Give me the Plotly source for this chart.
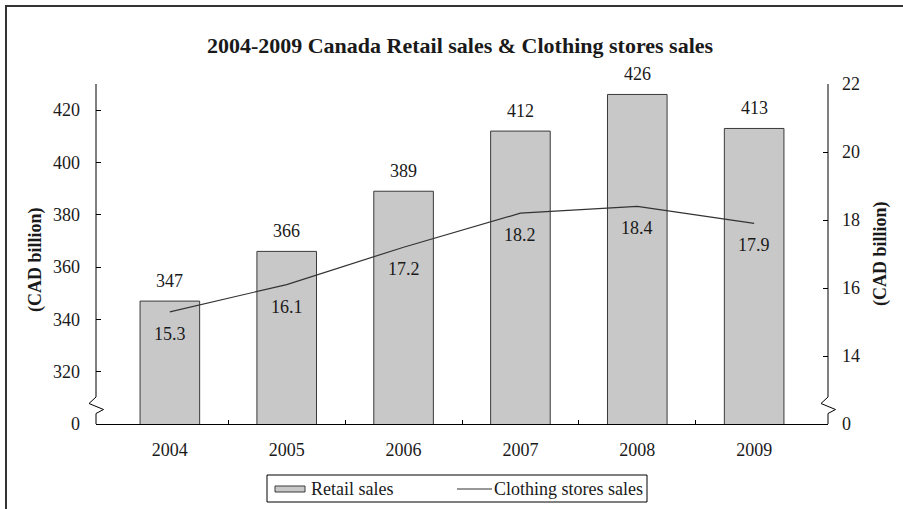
import plotly.graph_objects as go

# Canada retail sales (CAD billion) and clothing stores sales (CAD billion)
years = ["2004", "2005", "2006", "2007", "2008", "2009"]
retail_sales = [347, 366, 389, 412, 426, 413]
clothing_sales = [15.3, 16.1, 17.2, 18.2, 18.4, 17.9]

left_ticks = [300, 320, 340, 360, 380, 400, 420]
left_ticktext = ["0", "320", "340", "360", "380", "400", "420"]
right_ticks = [12, 14, 16, 18, 20, 22]
right_ticktext = ["0", "14", "16", "18", "20", "22"]

FONT = "Liberation Serif"
W, H = 903, 509
ML, MR, MT, MB = 96, 75, 84, 85
PW, PH = W - ML - MR, H - MT - MB


def fx(p):
    """pixel x -> paper x"""
    return (p - ML) / PW


def fy(p):
    """pixel y -> paper y"""
    return (H - MB - p) / PH


xpos = list(range(len(years)))
txt = dict(family=FONT, size=18, color="#1a1a1a")

fig = go.Figure()
fig.add_trace(go.Bar(
    x=xpos, y=retail_sales, name="Retail sales", width=0.51,
    marker=dict(color="#c8c8c8", line=dict(color="#3a3a3a", width=1)),
    showlegend=False, yaxis="y",
))
fig.add_trace(go.Scatter(
    x=xpos, y=clothing_sales, name="Clothing stores sales", mode="lines",
    line=dict(color="#333333", width=1.2), showlegend=False, yaxis="y2",
))

annotations = []
for i, v in enumerate(retail_sales):
    annotations.append(dict(x=i, y=v, xref="x", yref="y", text=str(v), showarrow=False,
                            yanchor="middle", yshift=20, font=txt))
for i, v in enumerate(clothing_sales):
    annotations.append(dict(x=i, y=v, xref="x", yref="y2", text=f"{v:.1f}", showarrow=False,
                            yanchor="middle", yshift=-22, font=txt))

# axis titles
for px_x, px_y in [(35, 260), (880, 254)]:
    annotations.append(dict(x=fx(px_x), y=fy(px_y), xref="paper", yref="paper",
                            text="<b>(CAD billion)</b>", textangle=-90, showarrow=False,
                            xanchor="center", yanchor="middle", font=txt))

# legend text
annotations.append(dict(x=fx(309), y=fy(489), xref="paper", yref="paper", text="Retail sales",
                        xanchor="left", yanchor="middle", showarrow=False, font=txt))
annotations.append(dict(x=fx(492), y=fy(489), xref="paper", yref="paper", text="Clothing stores sales",
                        xanchor="left", yanchor="middle", showarrow=False, font=txt))

shapes = []
line_k = dict(color="black", width=1)


def axis_with_break(px_x):
    # axis line with a zigzag break near the bottom
    shapes.append(dict(type="line", xref="paper", yref="paper", x0=fx(px_x), x1=fx(px_x),
                       y0=fy(MT), y1=fy(397), line=line_k))
    path = (f"M {fx(px_x)},{fy(397)} L {fx(px_x - 7)},{fy(403.5)} "
            f"L {fx(px_x + 7.5)},{fy(409.5)} L {fx(px_x)},{fy(413.5)} L {fx(px_x)},{fy(H - MB)}")
    shapes.append(dict(type="path", xref="paper", yref="paper", path=path, line=line_k))


axis_with_break(ML)
axis_with_break(ML + PW)

# outer frame
shapes.append(dict(type="rect", xref="paper", yref="paper", x0=fx(6), x1=fx(930),
                   y0=fy(6), y1=fy(540), line=dict(color="#333", width=2)))

# legend box and swatches
shapes.append(dict(type="rect", xref="paper", yref="paper", x0=fx(267), x1=fx(647),
                   y0=fy(475), y1=fy(502), line=dict(color="black", width=1)))
shapes.append(dict(type="rect", xref="paper", yref="paper", x0=fx(275), x1=fx(305),
                   y0=fy(486), y1=fy(492), fillcolor="#c8c8c8", line=dict(color="#3a3a3a", width=1)))
shapes.append(dict(type="line", xref="paper", yref="paper", x0=fx(457), x1=fx(492),
                   y0=fy(489), y1=fy(489), line=dict(color="#333", width=1.2)))

fig.update_layout(
    width=W, height=H,
    margin=dict(l=ML, r=MR, t=MT, b=MB, pad=0),
    paper_bgcolor="white", plot_bgcolor="white",
    title=dict(text="<b>2004-2009 Canada Retail sales & Clothing stores sales</b>",
               x=460 / W, xanchor="center", y=(H - 45) / H, yanchor="middle",
               font=dict(family=FONT, size=22, color="#1a1a1a")),
    font=txt,
    xaxis=dict(range=[-0.632, len(years) - 1 + 0.632], tickmode="array", tickvals=xpos,
               ticktext=years, ticks="", showline=True, linecolor="black", linewidth=1,
               showgrid=False, zeroline=False, ticklabelstandoff=9,
               minor=dict(tickmode="array", tickvals=[i + 0.5 for i in range(len(years) - 1)],
                          ticks="inside", ticklen=4, tickcolor="black", tickwidth=1, showgrid=False)),
    yaxis=dict(range=[300, 430], tickmode="array", tickvals=left_ticks, ticktext=left_ticktext,
               ticks="inside", ticklen=5, tickcolor="black", showline=False, showgrid=False,
               zeroline=False, ticklabelstandoff=15),
    yaxis2=dict(range=[12, 22], tickmode="array", tickvals=right_ticks, ticktext=right_ticktext,
                overlaying="y", side="right", ticks="inside", ticklen=5, tickcolor="black",
                showline=False, showgrid=False, zeroline=False, ticklabelstandoff=13),
    annotations=annotations, shapes=shapes,
)

fig.write_html("out.html")
